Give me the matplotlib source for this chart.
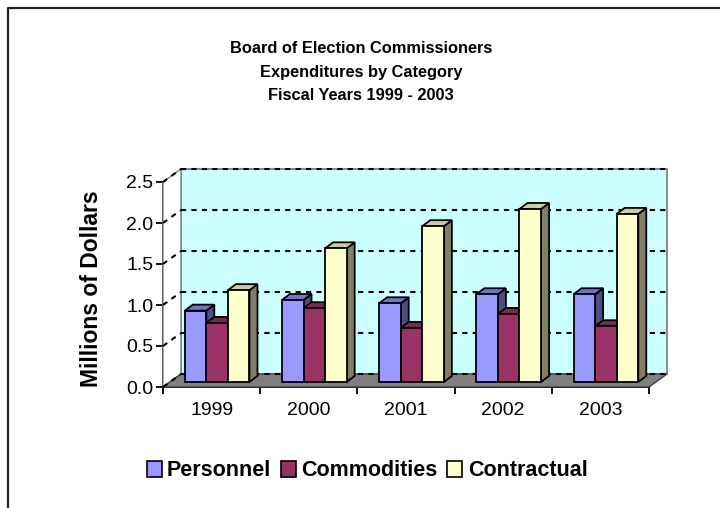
import matplotlib
matplotlib.use('Agg')
import matplotlib.pyplot as plt
from matplotlib.patches import Polygon, Patch
from matplotlib.lines import Line2D
from matplotlib.transforms import IdentityTransform

plt.rcParams['font.family'] = ['Liberation Sans', 'DejaVu Sans']

# ---- data ----
years = ['1999', '2000', '2001', '2002', '2003']
personnel = [0.87, 1.00, 0.96, 1.07, 1.07]
commodities = [0.72, 0.90, 0.66, 0.83, 0.68]
contractual = [1.12, 1.63, 1.90, 2.11, 2.05]
series_names = ['Personnel', 'Commodities', 'Contractual']
yticks = [0.0, 0.5, 1.0, 1.5, 2.0, 2.5]
ytick_labels = ['0.0', '0.5', '1.0', '1.5', '2.0', '2.5']
title = 'Board of Election Commissioners\nExpenditures by Category\nFiscal Years 1999 - 2003'
ylabel = 'Millions of Dollars'

front_colors = ['#9999FF', '#993366', '#FFFFCC']
top_colors = ['#7373CC', '#7A2952', '#CCCCA3']
side_colors = ['#4D4D80', '#4D1A33', '#808066']

W, H = 720, 508
fig = plt.figure(figsize=(W / 100, H / 100), dpi=100)
ax = fig.add_axes([163 / W, (H - 387) / H, 486 / W, 205 / H])
ax.set_xlim(0, len(years))
ax.set_ylim(0, 2.5)
ax.patch.set_visible(False)
for s in ['top', 'right']:
    ax.spines[s].set_visible(False)
for s in ['left', 'bottom']:
    ax.spines[s].set_linewidth(1.3)
    ax.spines[s].set_zorder(50)
ax.set_yticks(yticks)
ax.set_yticklabels(ytick_labels, fontsize=14)
ax.set_xticks(range(len(years) + 1))
ax.set_xticklabels([])
ax.set_xticks([i + 0.5 for i in range(len(years))], minor=True)
ax.set_xticklabels(years, minor=True, fontsize=14)
ax.tick_params(axis='both', which='major', direction='out', length=5, width=1.3)
ax.tick_params(axis='x', which='minor', length=0, pad=11)
ax.tick_params(axis='y', pad=2)

BACK = (18, 13)       # full depth offset in pixels
BAR_F = (5.5, 5)      # bar front offset
BAR_D = (8, 6)        # bar depth
IDT = IdentityTransform()


def P(x, y, off):
    px, py = ax.transData.transform((x, y))
    return (px + off[0], py + off[1])


def addoff(a, b):
    return (a[0] + b[0], a[1] + b[1])


def poly(pts, fc, ec, lw, z, **kw):
    p = Polygon(pts, closed=True, facecolor=fc, edgecolor=ec, linewidth=lw,
                transform=IDT, zorder=z, clip_on=False, **kw)
    fig.add_artist(p)
    return p


def line(p0, p1, z, **kw):
    l = Line2D([p0[0], p1[0]], [p0[1], p1[1]], transform=IDT, zorder=z,
               clip_on=False, **kw)
    fig.add_artist(l)


n = len(years)
ymax = 2.5
zero = (0, 0)
# back wall
poly([P(0, 0, BACK), P(n, 0, BACK), P(n, ymax, BACK), P(0, ymax, BACK)],
     '#CCFFFF', '#808080', 1.3, 1)
# side wall
poly([P(0, 0, zero), P(0, 0, BACK), P(0, ymax, BACK), P(0, ymax, zero)],
     'white', '#808080', 1.0, 1.1)
# floor
poly([P(0, 0, zero), P(n, 0, zero), P(n, 0, BACK), P(0, 0, BACK)],
     '#808080', '#404040', 1.0, 1.2)
# gridlines
for v in yticks:
    line(P(0, v, BACK), P(n, v, BACK), 1.5, color='black', linewidth=1.5,
         linestyle=(0, (2.5, 2.5)))
    line(P(0, v, zero), P(0, v, BACK), 1.5, color='black', linewidth=1.5,
         linestyle=(0, (2.5, 2.5)))

# bars
series = [personnel, commodities, contractual]
bw = 0.222
z = 3
BB = addoff(BAR_F, BAR_D)
for i in range(n):
    for j, vals in enumerate(series):
        v = vals[i]
        x0 = i + 0.5 - 1.5 * bw + j * bw
        x1 = x0 + bw
        # side
        poly([P(x1, 0, BAR_F), P(x1, 0, BB), P(x1, v, BB), P(x1, v, BAR_F)],
             side_colors[j], 'black', 1.3, z)
        # top
        poly([P(x0, v, BAR_F), P(x1, v, BAR_F), P(x1, v, BB), P(x0, v, BB)],
             top_colors[j], 'black', 1.3, z + 0.1)
        # front
        poly([P(x0, 0, BAR_F), P(x1, 0, BAR_F), P(x1, v, BAR_F), P(x0, v, BAR_F)],
             front_colors[j], 'black', 1.3, z + 0.2)
        z += 1

# titles
fig.text(361 / W, 1 - 72 / H, title, ha='center', va='center', fontsize=11.8,
         fontweight='bold', linespacing=1.7)
fig.text(92 / W, 1 - 289 / H, ylabel, ha='center', va='center', rotation=90,
         fontsize=16.5, fontweight='bold')

# legend
handles = [Patch(facecolor=c, edgecolor='black', linewidth=1.2) for c in front_colors]
fig.legend(handles, series_names, loc='center', bbox_to_anchor=(367 / W, 1 - 471 / H),
           ncol=3, frameon=False, prop={'size': 15.5, 'weight': 'bold'},
           handlelength=0.7, handleheight=0.7, handletextpad=0.25,
           columnspacing=0.45, borderpad=0)

# frame border
fig.add_artist(Line2D([8 / W, 8 / W, 1], [0, 1 - 8 / H, 1 - 8 / H],
                      transform=fig.transFigure, color='#202020', linewidth=1.6))

fig.savefig('out.png', dpi=100)
